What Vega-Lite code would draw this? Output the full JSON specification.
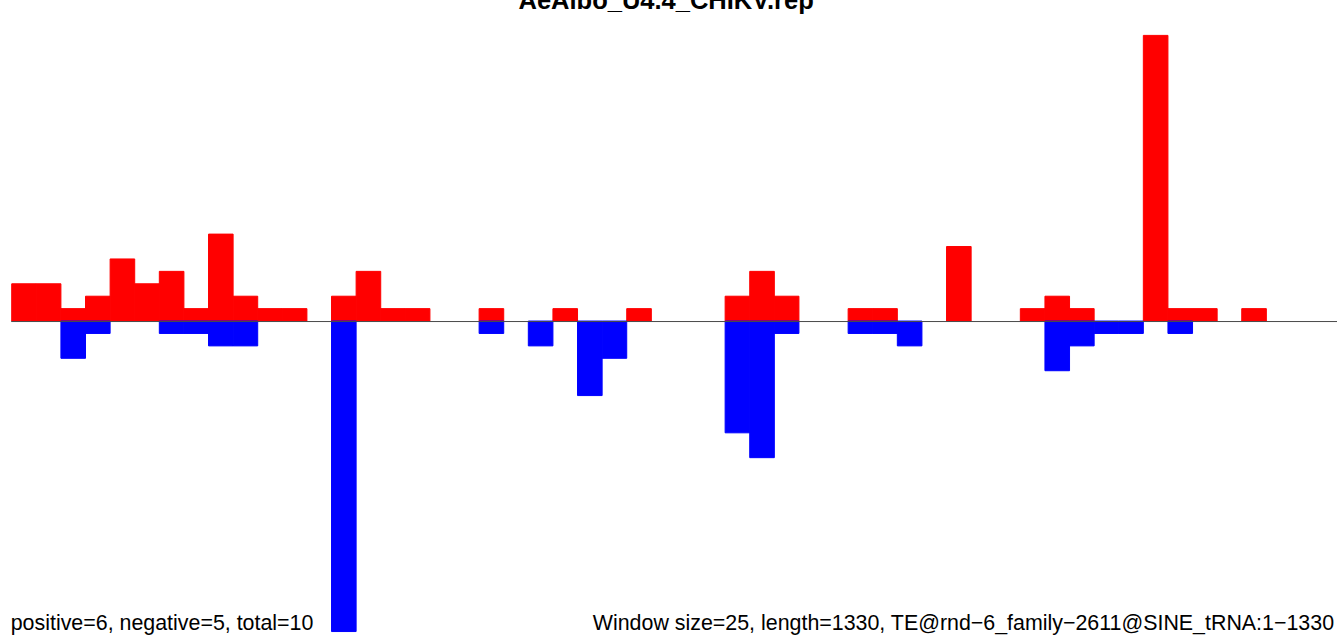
{
  "$schema": "https://vega.github.io/schema/vega-lite/v6.json",
  "width": 1337,
  "height": 637,
  "autosize": "none",
  "padding": 0,
  "background": "white",
  "config": {"view": {"stroke": null}},
  "datasets": {
    "bars": [
      {"start": 0, "end": 25, "strand": "positive", "value": 3},
      {"start": 25, "end": 50, "strand": "positive", "value": 3},
      {"start": 50, "end": 75, "strand": "positive", "value": 1},
      {"start": 75, "end": 100, "strand": "positive", "value": 2},
      {"start": 100, "end": 125, "strand": "positive", "value": 5},
      {"start": 125, "end": 150, "strand": "positive", "value": 3},
      {"start": 150, "end": 175, "strand": "positive", "value": 4},
      {"start": 175, "end": 200, "strand": "positive", "value": 1},
      {"start": 200, "end": 225, "strand": "positive", "value": 7},
      {"start": 225, "end": 250, "strand": "positive", "value": 2},
      {"start": 250, "end": 275, "strand": "positive", "value": 1},
      {"start": 275, "end": 300, "strand": "positive", "value": 1},
      {"start": 325, "end": 350, "strand": "positive", "value": 2},
      {"start": 350, "end": 375, "strand": "positive", "value": 4},
      {"start": 375, "end": 400, "strand": "positive", "value": 1},
      {"start": 400, "end": 425, "strand": "positive", "value": 1},
      {"start": 475, "end": 500, "strand": "positive", "value": 1},
      {"start": 550, "end": 575, "strand": "positive", "value": 1},
      {"start": 625, "end": 650, "strand": "positive", "value": 1},
      {"start": 725, "end": 750, "strand": "positive", "value": 2},
      {"start": 750, "end": 775, "strand": "positive", "value": 4},
      {"start": 775, "end": 800, "strand": "positive", "value": 2},
      {"start": 850, "end": 875, "strand": "positive", "value": 1},
      {"start": 875, "end": 900, "strand": "positive", "value": 1},
      {"start": 950, "end": 975, "strand": "positive", "value": 6},
      {"start": 1025, "end": 1050, "strand": "positive", "value": 1},
      {"start": 1050, "end": 1075, "strand": "positive", "value": 2},
      {"start": 1075, "end": 1100, "strand": "positive", "value": 1},
      {"start": 1150, "end": 1175, "strand": "positive", "value": 23},
      {"start": 1175, "end": 1200, "strand": "positive", "value": 1},
      {"start": 1200, "end": 1225, "strand": "positive", "value": 1},
      {"start": 1250, "end": 1275, "strand": "positive", "value": 1},
      {"start": 50, "end": 75, "strand": "negative", "value": -3},
      {"start": 75, "end": 100, "strand": "negative", "value": -1},
      {"start": 150, "end": 175, "strand": "negative", "value": -1},
      {"start": 175, "end": 200, "strand": "negative", "value": -1},
      {"start": 200, "end": 225, "strand": "negative", "value": -2},
      {"start": 225, "end": 250, "strand": "negative", "value": -2},
      {"start": 325, "end": 350, "strand": "negative", "value": -25},
      {"start": 475, "end": 500, "strand": "negative", "value": -1},
      {"start": 525, "end": 550, "strand": "negative", "value": -2},
      {"start": 575, "end": 600, "strand": "negative", "value": -6},
      {"start": 600, "end": 625, "strand": "negative", "value": -3},
      {"start": 725, "end": 750, "strand": "negative", "value": -9},
      {"start": 750, "end": 775, "strand": "negative", "value": -11},
      {"start": 775, "end": 800, "strand": "negative", "value": -1},
      {"start": 850, "end": 875, "strand": "negative", "value": -1},
      {"start": 875, "end": 900, "strand": "negative", "value": -1},
      {"start": 900, "end": 925, "strand": "negative", "value": -2},
      {"start": 1050, "end": 1075, "strand": "negative", "value": -4},
      {"start": 1075, "end": 1100, "strand": "negative", "value": -2},
      {"start": 1100, "end": 1125, "strand": "negative", "value": -1},
      {"start": 1125, "end": 1150, "strand": "negative", "value": -1},
      {"start": 1175, "end": 1200, "strand": "negative", "value": -1}
    ]
  },
  "layer": [
    {
      "data": {"name": "bars"},
      "mark": {"type": "bar", "strokeWidth": 1},
      "encoding": {
        "x": {"field": "start", "type": "quantitative", "axis": null,
              "scale": {"domain": [-11.9, 1346.8], "nice": false, "zero": false}},
        "x2": {"field": "end"},
        "y": {"field": "value", "type": "quantitative", "axis": null,
              "scale": {"domain": [-25.44, 25.85], "nice": false, "zero": false}},
        "y2": {"datum": 0},
        "color": {"field": "strand", "type": "nominal", "legend": null,
                  "scale": {"domain": ["positive", "negative"], "range": ["#ff0000", "#0000ff"]}},
        "stroke": {"field": "strand", "type": "nominal", "legend": null,
                  "scale": {"domain": ["positive", "negative"], "range": ["#ff0000", "#0000ff"]}}
      }
    },
    {
      "data": {"values": [{"from": -0.5, "to": 1346.8, "level": -0.04}]},
      "mark": {"type": "rule", "color": "#4a4a4a", "strokeWidth": 1},
      "encoding": {
        "x": {"field": "from", "type": "quantitative"},
        "x2": {"field": "to"},
        "y": {"field": "level", "type": "quantitative"}
      }
    },
    {
      "data": {"values": [{"label": "AeAlbo_U4.4_CHIKV.rep", "px": 665, "py": 25.12}]},
      "mark": {"type": "text", "font": "Liberation Sans", "fontWeight": "bold", "fontSize": 25.5,
               "align": "center", "baseline": "alphabetic", "color": "black"},
      "encoding": {
        "x": {"field": "px", "type": "quantitative"},
        "y": {"field": "py", "type": "quantitative"},
        "text": {"field": "label"}
      }
    },
    {
      "data": {"values": [
        {"label": "positive=6, negative=5, total=10", "px": -1, "py": -24.88},
        {"label": "Window size=25, length=1330, TE@rnd−6_family−2611@SINE_tRNA:1−1330", "px": 590.5, "py": -24.88}
      ]},
      "mark": {"type": "text", "font": "Liberation Sans", "fontSize": 21.4,
               "align": "left", "baseline": "alphabetic", "color": "black"},
      "encoding": {
        "x": {"field": "px", "type": "quantitative"},
        "y": {"field": "py", "type": "quantitative"},
        "text": {"field": "label"}
      }
    }
  ]
}
